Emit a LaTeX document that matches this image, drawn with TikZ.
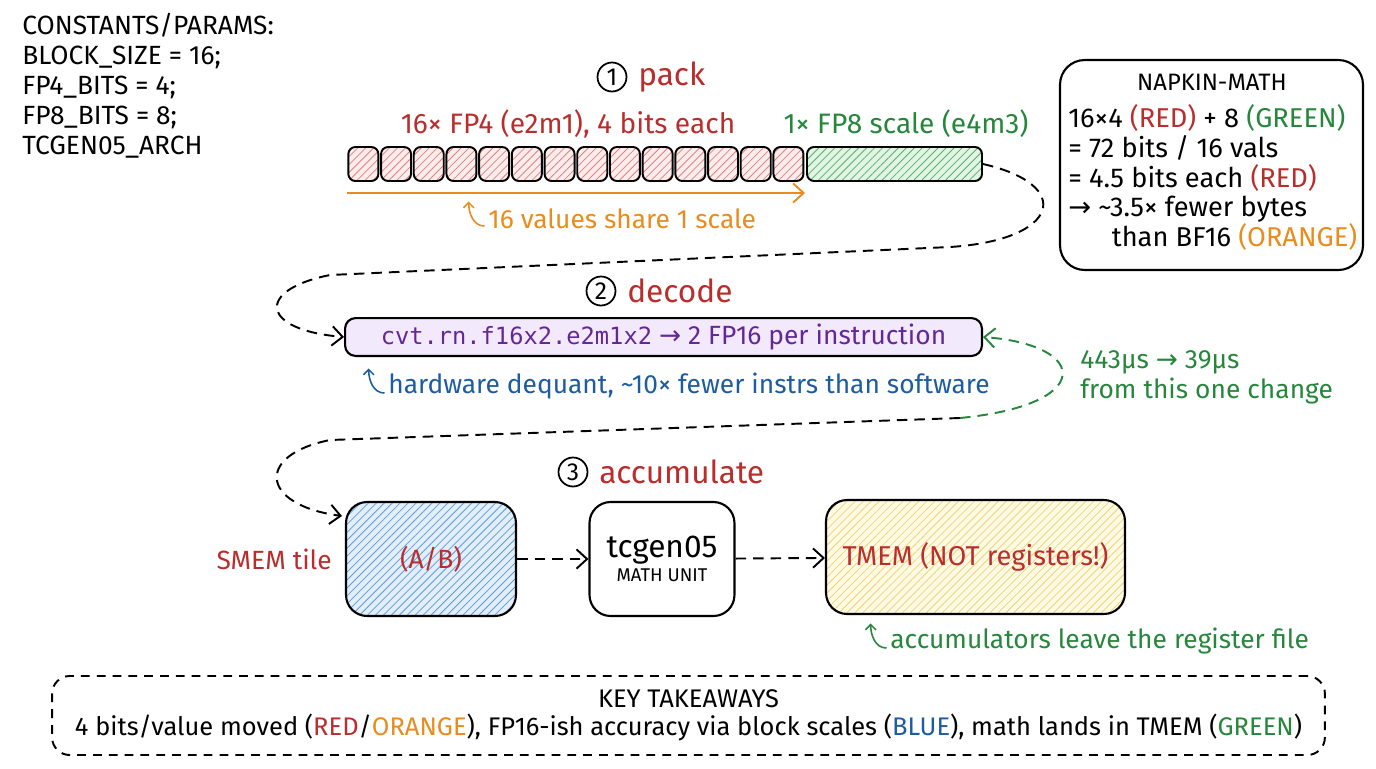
\documentclass[tikz,border=0pt]{standalone}
\usepackage{fontspec}
\setmainfont{Fira Sans}
\newfontfamily\symfont{DejaVu Sans}
\newfontfamily\codefont{DejaVu Sans Mono}
\usepackage{xcolor}
\usetikzlibrary{arrows.meta,patterns.meta,positioning}

\definecolor{inkred}{RGB}{186,45,45}
\definecolor{inkgreen}{RGB}{38,135,60}
\definecolor{inkorange}{RGB}{232,140,30}
\definecolor{inkblue}{RGB}{28,92,160}
\definecolor{inkpurple}{RGB}{100,40,150}
\definecolor{purplefill}{RGB}{242,234,252}
\definecolor{cellfill}{RGB}{252,236,236}
\definecolor{cellhatch}{RGB}{222,130,130}
\definecolor{scalefill}{RGB}{226,244,228}
\definecolor{scalehatch}{RGB}{90,175,105}
\definecolor{smemfill}{RGB}{226,238,250}
\definecolor{smemhatch}{RGB}{95,155,215}
\definecolor{tmemfill}{RGB}{255,250,228}
\definecolor{tmemhatch}{RGB}{238,212,120}

\newcommand{\arr}{{\symfont →}}

\begin{document}
\begin{tikzpicture}[x=0.02cm, y=-0.02cm,
    txt/.style={inner sep=0pt, font=\fontsize{15}{17}\selectfont},
    numcirc/.style={circle, draw, line width=1pt, minimum size=0.58cm, inner sep=0pt, font=\fontsize{14}{14}\selectfont},
    steptitle/.style={inner sep=0pt, anchor=west, text=inkred, font=\fontsize{18}{18}\selectfont},
    hatch/.style={pattern={Lines[angle=45,distance=3.2pt,line width=0.45pt]}, pattern color=#1},
    cellbox/.style={draw, line width=1.1pt, rounded corners=4pt, minimum width=0.6cm, minimum height=0.68cm, inner sep=0pt, preaction={fill=cellfill}, hatch=cellhatch},
    scalebox/.style={draw, line width=1.1pt, rounded corners=4pt, minimum width=3.5cm, minimum height=0.68cm, inner sep=0pt, preaction={fill=scalefill}, hatch=scalehatch},
    unitbox/.style={draw, line width=1.2pt, rounded corners=12pt, minimum height=2.28cm, inner sep=0pt},
    flow/.style={line width=1.1pt, dash pattern=on 6pt off 4pt, -{Straight Barb[length=6pt,width=11pt]}},
    hook/.style={line width=0.9pt, -{Straight Barb[length=3pt,width=6pt]}},
]
\useasboundingbox (0,0) rectangle (1376,768);

% constants
\node[txt, anchor=north west, align=left, font=\fontsize{15}{17}\selectfont] (consts) at (22,13)
    {CONSTANTS/PARAMS:\\BLOCK\_SIZE = 16;\\FP4\_BITS = 4;\\FP8\_BITS = 8;\\TCGEN05\_ARCH};

% 1) pack
\node[numcirc] (n1) at (612,77) {1};
\node[steptitle, right=6pt of n1] (pack) {pack};
\node[txt, text=inkred, font=\fontsize{16}{17}\selectfont] (fp4lbl) at (568,124) {16× FP4 (e2m1), 4 bits each};
\node[txt, text=inkgreen, font=\fontsize{16}{17}\selectfont] (fp8lbl) at (906,124) {1× FP8 scale (e4m3)};
\foreach \i in {0,...,13}
    \node[cellbox] (c\i) at ({363.35+32.7*\i},164) {};
\node[scalebox] (scale) at (894.5,164) {};
\coordinate (sharea) at (347,193);
\coordinate (shareb) at (805,193);
\draw[inkorange, line width=1.1pt, -{Straight Barb[length=6pt,width=11pt]}] (sharea) -- (shareb);
\node[txt, anchor=west, text=inkorange] (valnote) at (488,219) {16 values share 1 scale};
\draw[hook, inkorange] ([xshift=-2pt,yshift=-4pt]valnote.west) to[out=180,in=-90] ++(-9pt,14pt);

% napkin math
\node[draw, line width=1.2pt, rounded corners=14pt, minimum width=6.06cm, minimum height=4.2cm] (napkin) at (1211.5,165) {};
\node[txt, font=\fontsize{13.5}{13}\selectfont] (naptitle) at (1212,82) {NAPKIN-MATH};
\node[txt, anchor=north west, align=left, font=\fontsize{15.5}{17}\selectfont] (napbody) at (1068,104)
    {16×4 \textcolor{inkred}{(RED)} + 8 \textcolor{inkgreen}{(GREEN)}\\
     = 72 bits / 16 vals\\
     = 4.5 bits each \textcolor{inkred}{(RED)}\\
     \arr{} \textasciitilde3.5× fewer bytes\\
     \hspace{1.6em}than BF16 \textcolor{inkorange}{(ORANGE)}};

% 2) decode
\node[numcirc] (n2) at (601,291) {2};
\node[steptitle, right=6pt of n2] (decodet) {decode};
\node[draw, line width=1.2pt, rounded corners=6pt, fill=purplefill, minimum width=12.74cm, minimum height=0.72cm, text=inkpurple, font=\fontsize{15}{15}\selectfont] (decode) at (663.5,337)
    {{\codefont\fontsize{13.5}{15}\selectfont cvt.rn.f16x2.e2m1x2} \arr{} 2 FP16 per instruction};
\node[txt, anchor=west, text=inkblue] (hwnote) at (388,386) {hardware dequant, \textasciitilde10× fewer instrs than software};
\draw[hook, inkblue] ([xshift=-2pt,yshift=-4pt]hwnote.west) to[out=180,in=-90] ++(-9pt,14pt);
\node[txt, anchor=west, align=left, text=inkgreen] (timenote) at (1080,377) {443µs \arr{} 39µs\\from this one change};

% 3) accumulate
\node[numcirc] (n3) at (573,472) {3};
\node[steptitle, right=6pt of n3] (accum) {accumulate};
\node[unitbox, minimum width=3.4cm, preaction={fill=smemfill}, hatch=smemhatch, text=inkred, font=\fontsize{15}{15}\selectfont] (smem) at (431,559) {(A/B)};
\node[txt, anchor=east, text=inkred] (smemlbl) at (332,559) {SMEM tile};
\node[unitbox, minimum width=2.9cm, fill=white, align=center] (math) at (662,559)
    {{\fontsize{18}{22}\selectfont tcgen05}\\[2pt]{\fontsize{10.5}{12}\selectfont MATH UNIT}};
\node[unitbox, minimum width=5.98cm, preaction={fill=tmemfill}, hatch=tmemhatch, text=inkred, font=\fontsize{15.5}{15}\selectfont] (tmem) at (975.5,557) {TMEM (NOT registers!)};
\node[txt, anchor=west, text=inkgreen] (accnote) at (890,641) {accumulators leave the register file};
\draw[hook, inkgreen] ([xshift=-2pt,yshift=-4pt]accnote.west) to[out=180,in=-90] ++(-9pt,14pt);

% connectors
\draw[flow] (scale.east) .. controls (1075,185) and (1060,240) .. (950,247)
    -- (330,275) .. controls (255,290) and (260,330) .. (decode.west);
\coordinate (loopa) at (960,418);
\coordinate (smemin) at (342,516);
\draw[flow] (loopa) -- (330,440) .. controls (255,455) and (260,505) .. (smemin);
\draw[flow, inkgreen] (loopa) .. controls (1095,405) and (1090,345) .. (decode.east);
\draw[flow] (smem) -- (math);
\draw[flow] (math) -- (tmem);

% takeaways
\node[draw, line width=1.1pt, dash pattern=on 5pt off 4pt, rounded corners=10pt, minimum width=25.46cm, minimum height=1.58cm, align=center, font=\fontsize{14.5}{16}\selectfont] (takeaways) at (688.5,715.5)
    {KEY TAKEAWAYS\\
     4 bits/value moved (\textcolor{inkred}{RED}/\textcolor{inkorange}{ORANGE}), FP16-ish accuracy via block scales (\textcolor{inkblue}{BLUE}), math lands in TMEM (\textcolor{inkgreen}{GREEN})};
\end{tikzpicture}
\end{document}
